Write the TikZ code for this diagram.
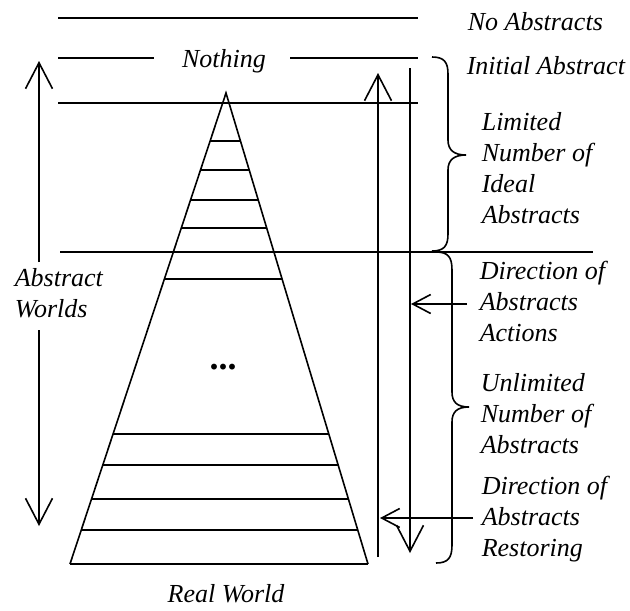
\documentclass[tikz,border=0pt]{standalone}
\usepackage{fontspec}
\setmainfont{Liberation Serif}[ItalicFont={Liberation Serif Italic},BoldFont={Liberation Serif Bold}]
\usetikzlibrary{arrows.meta,calc}
\begin{document}
\begin{tikzpicture}[x=1pt,y=-1pt,line width=1.6pt,
  lbl/.style={font=\fontsize{26}{31}\selectfont\itshape,inner sep=0pt,align=left,anchor=base west},
  bigarrow/.style={-{Straight Barb[length=26pt,width=27pt]}},
  smallarrow/.style={-{Straight Barb[length=18pt,width=19pt]}}]
\useasboundingbox (0,0) rectangle (630,611);
% horizontal levels
\coordinate (t1) at (58,18);  \coordinate (t2) at (418,18);
\draw (t1) -- (t2);
\node[lbl,anchor=base] (nothing) at (224,67) {Nothing};
\coordinate (n1) at (58,58);  \coordinate (n2) at (154,58);
\coordinate (n3) at (290,58); \coordinate (n4) at (418,58);
\draw (n1) -- (n2);
\draw (n3) -- (n4);
\coordinate (l1) at (58,103); \coordinate (l2) at (418,103);
\draw (l1) -- (l2);
\coordinate (m1) at (60,252); \coordinate (m2) at (593,252);
\draw (m1) -- (m2);
% triangle
\coordinate (apex) at (226,93);
\coordinate (bl) at (70,564);
\coordinate (br) at (368,564);
\draw (bl) -- (apex) -- (br);
\draw[line width=2.8pt] (bl) -- (br);
\foreach \f in {0.1019,0.1635,0.2272,0.2866,0.3949,0.7240,0.7898,0.8620,0.9278}
  \draw ($(apex)!\f!(bl)$) -- ($(apex)!\f!(br)$);
\node[font=\fontsize{36}{36}\selectfont\bfseries,inner sep=0pt,anchor=base] (dots) at (223,369) {...};
% arrows
\coordinate (a1) at (39,262); \coordinate (a2) at (39,61);
\draw[bigarrow] (a1) -- (a2);
\coordinate (a3) at (39,330); \coordinate (a4) at (39,526);
\draw[bigarrow] (a3) -- (a4);
\coordinate (u1) at (378,557); \coordinate (u2) at (378,73);
\draw[bigarrow] (u1) -- (u2);
\coordinate (d1) at (410,68); \coordinate (d2) at (410,553);
\draw[bigarrow] (d1) -- (d2);
\coordinate (s1) at (467,304); \coordinate (s2) at (411,304);
\draw[smallarrow] (s1) -- (s2);
\coordinate (r1) at (473,518); \coordinate (r2) at (380,518);
\draw[smallarrow] (r1) -- (r2);
% braces
\draw (432,57) .. controls (444,57) and (448,62) .. (448,74) -- (448,140)
  .. controls (448,150) and (454,155) .. (466,155)
  .. controls (454,155) and (448,160) .. (448,170) -- (448,234)
  .. controls (448,246) and (444,251) .. (432,251);
\draw (436,252) .. controls (448,252) and (452,257) .. (452,270) -- (452,392)
  .. controls (452,402) and (457,407) .. (469,407)
  .. controls (457,407) and (452,412) .. (452,422) -- (452,545)
  .. controls (452,558) and (448,563) .. (436,563);
% labels
\node[lbl] (noabs) at (467,30) {No Abstracts};
\node[lbl] (init) at (466,74) {Initial Abstract};
\node[lbl] (lim) at (481,223) {Limited\\Number of\\Ideal\\Abstracts};
\node[lbl] (dira) at (479,341) {Direction of\\Abstracts\\Actions};
\node[lbl] (unl) at (480,453) {Unlimited\\Number of\\Abstracts};
\node[lbl] (dirr) at (481,556) {Direction of\\Abstracts\\Restoring};
\node[lbl] (aw) at (14,317) {Abstract\\Worlds};
\node[lbl,anchor=base] (real) at (226,602) {Real World};
\end{tikzpicture}
\end{document}
